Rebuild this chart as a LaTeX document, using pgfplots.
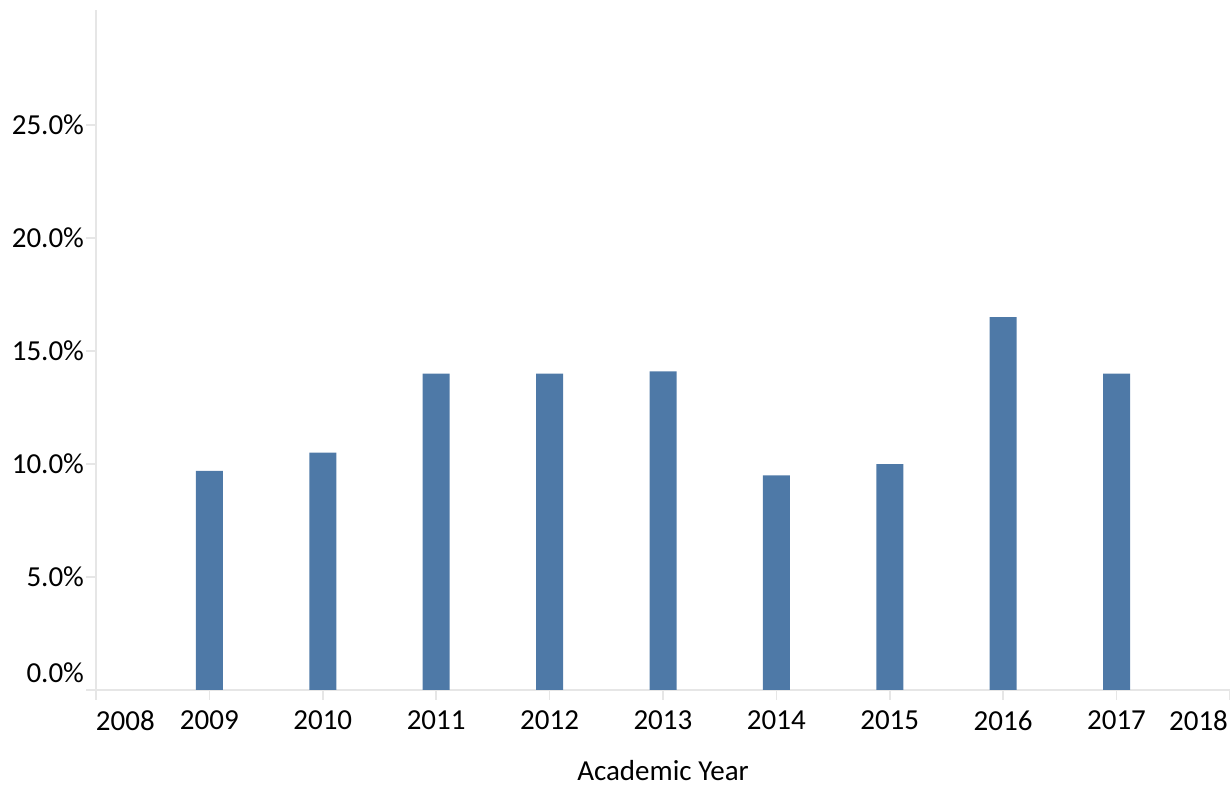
\documentclass[border=0pt]{standalone}
\usepackage{pgfplots}
\pgfplotsset{compat=1.18}
\usepackage{fontspec}
\setmainfont{Carlito}
\definecolor{barblue}{HTML}{4E79A7}
\definecolor{axgray}{HTML}{E6E6E6}
\begin{document}
\begin{tikzpicture}
\begin{axis}[
  scale only axis,
  width=567pt, height=340pt,
  xmin=2008, xmax=2018,
  ymin=0, ymax=30.09,
  axis x line*=bottom, axis y line*=left,
  axis line style={axgray, line width=0.8pt, -},
  tick align=outside,
  major tick length=5pt,
  tick style={axgray, line width=0.8pt},
  xtick={2008,2009,...,2018},
  xticklabels={\rlap{\hspace{0pt}2008},2009,2010,2011,2012,2013,2014,2015,2016,2017,\llap{2018\hspace{1pt}}},
  ytick={5,10,15,20,25},
  yticklabels={5.0\%,10.0\%,15.0\%,20.0\%,25.0\%},
  extra y ticks={0},
  extra y tick labels={0.0\%},
  extra y tick style={yticklabel style={yshift=8.5pt}},
  tick label style={font=\fontsize{14.5}{16}\selectfont, text=black},
  /pgf/number format/assume math mode=true,
  xticklabel style={yshift=-2pt},
  yticklabel style={xshift=2.5pt},
  xlabel={Academic Year},
  xlabel style={font=\fontsize{14.5}{16}\selectfont, inner sep=0pt, yshift=-11.3pt},
  ylabel={},
]
\addplot[ybar, bar width=13.5pt, fill=barblue, draw=none] coordinates {
  (2009,9.7) (2010,10.5) (2011,14.0) (2012,14.0) (2013,14.1)
  (2014,9.5) (2015,10.0) (2016,16.5) (2017,14.0)
};
\node[anchor=base, text=barblue, font=\fontsize{18}{20}\selectfont\bfseries, yshift=1pt] at (rel axis cs:0.596,1) {2009-2017};
\end{axis}
\pgfresetboundingbox
\useasboundingbox (-48pt,-47.5pt) rectangle (567pt,345pt);
\end{tikzpicture}
\end{document}
